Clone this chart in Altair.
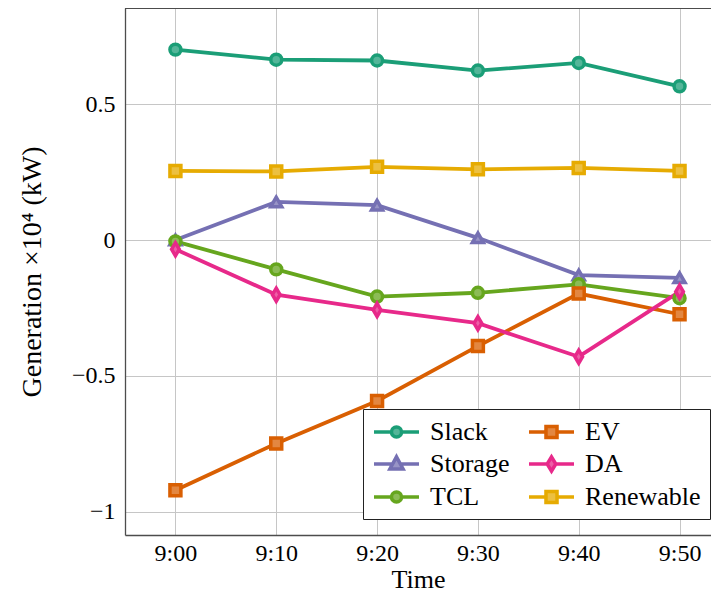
import altair as alt
import pandas as pd

# ---- data ----
times = ["9:00", "9:10", "9:20", "9:30", "9:40", "9:50"]
series = ["Slack", "Storage", "TCL", "EV", "DA", "Renewable"]
slack = [0.700, 0.663, 0.660, 0.623, 0.651, 0.565]
storage = [0.000, 0.140, 0.128, 0.008, -0.129, -0.139]
tcl = [-0.005, -0.108, -0.208, -0.194, -0.163, -0.214]
ev = [-0.920, -0.748, -0.592, -0.390, -0.197, -0.273]
da = [-0.034, -0.201, -0.257, -0.306, -0.429, -0.190]
renewable = [0.254, 0.252, 0.269, 0.260, 0.265, 0.254]
y_ticks = [-1, -0.5, 0, 0.5]

# ---- styles ----
colors = ["#1b9e77", "#7570b3", "#66a61e", "#d95f02", "#e7298a", "#e6ab02"]
light = ["#54b699", "#9894c6", "#8cbc56", "#e38741", "#ed5fa7", "#ecc041"]
point_shapes = ["circle", "triangle-up", "circle", "square",
                "M0,-1.2L0.7,0L0,1.2L-0.7,0Z", "square"]


def legend_path(kind):
    # line sample from -1 to 2.75 units, marker centred at 0.875
    c = 0.875
    if kind == "circle":
        r = 0.42
        return ("M-1,0L{a},0M{b},0L2.75,0M{b},0A{r},{r},0,1,1,{a},0A{r},{r},0,1,1,{b},0Z"
                .format(a=c - r, b=c + r, r=r))
    if kind == "square":
        h = 0.46
        return ("M-1,0L{a},0M{b},0L2.75,0M{a},{n}H{b}V{h}H{a}Z"
                .format(a=c - h, b=c + h, h=h, n=-h))
    if kind == "triangle":
        return ("M-1,0L{a},0M{b},0L2.75,0M{c},-0.6L{r},0.42L{l},0.42Z"
                .format(a=c - 0.32, b=c + 0.32, c=c, r=c + 0.55, l=c - 0.55))
    return ("M-1,0L{a},0M{b},0L2.75,0M{c},-0.6L{b},0L{c},0.6L{a},0Z"
            .format(a=c - 0.36, b=c + 0.36, c=c))


legend_shapes = [legend_path(k) for k in
                 ["circle", "triangle", "circle", "square", "diamond", "square"]]

FONT = "'Liberation Serif', 'DejaVu Serif', serif"
FRAME = "#4d4d4d"
GRID = "#c6c6c6"

rows = []
for name, vals in zip(series, [slack, storage, tcl, ev, da, renewable]):
    for i, (t, v) in enumerate(zip(times, vals)):
        rows.append({"idx": i, "time": t, "series": name, "value": v})
df = pd.DataFrame(rows)

label_expr = "[" + ",".join("'%s'" % t for t in times) + "][datum.value]"
fill_expr = ""
for s, c in zip(series[:-1], light[:-1]):
    fill_expr += "datum.value === '%s' ? '%s' : " % (s, c)
fill_expr += "'%s'" % light[-1]

x_scale = alt.Scale(domain=[-0.5, 5.312], nice=False, zero=False)
y_scale = alt.Scale(domain=[-1.0846, 0.853], nice=False, zero=False)

x_axis = alt.Axis(values=list(range(len(times))), labelExpr=label_expr,
                  grid=True, gridColor=GRID, gridWidth=1, ticks=False,
                  domain=True, domainColor=FRAME, domainWidth=1.3,
                  labelFont=FONT, labelFontSize=24, labelColor="black",
                  labelPadding=6, title="Time", titleFont=FONT,
                  titleFontSize=26, titleFontWeight="normal",
                  titleColor="black", titlePadding=1)
y_axis = alt.Axis(values=y_ticks, format="~g", grid=True, gridColor=GRID,
                  gridWidth=1, ticks=False, domain=True, domainColor=FRAME,
                  domainWidth=1.3, labelFont=FONT, labelFontSize=24,
                  labelColor="black", labelPadding=10,
                  title="Generation ×10⁴ (kW)", titleFont=FONT,
                  titleFontSize=28, titleFontWeight="normal",
                  titleColor="black", titlePadding=25)


def stroke_scale():
    return alt.Scale(domain=series, range=colors)


def fill_scale():
    return alt.Scale(domain=series, range=light)


base = alt.Chart(df)

frame_top = alt.Chart(df).mark_rule(color=FRAME, strokeWidth=1.3).encode(
    y=alt.value(0)
)

lines = base.mark_line(strokeWidth=3.8).encode(
    x=alt.X("idx:Q", scale=x_scale, axis=x_axis),
    y=alt.Y("value:Q", scale=y_scale, axis=y_axis),
    stroke=alt.Stroke("series:N", scale=stroke_scale(), legend=None),
)

points = base.mark_point(filled=False, opacity=1, fillOpacity=1, strokeWidth=3.5, size=120).encode(
    x=alt.X("idx:Q", scale=x_scale, axis=x_axis),
    y=alt.Y("value:Q", scale=y_scale, axis=y_axis),
    stroke=alt.Stroke("series:N", scale=stroke_scale(), legend=None),
    fill=alt.Fill("series:N", scale=fill_scale(), legend=None),
    shape=alt.Shape("series:N", scale=alt.Scale(domain=series, range=point_shapes), legend=None),
)

leg = alt.Legend(
    title=None, orient="none", legendX=238, legendY=401, columns=2,
    values=series, symbolSize=576, symbolStrokeWidth=3.5,
    symbolFillColor={"expr": fill_expr}, symbolStrokeColor="black",
    labelFont=FONT, labelFontSize=26, labelColor="black", labelOffset=30,
    rowPadding=4, columnPadding=12, padding=9,
    strokeColor="#222222", fillColor="white",
)

legend_layer = base.transform_filter("false").mark_point(
    filled=False, opacity=1, fillOpacity=1, strokeWidth=3.5
).encode(
    x=alt.X("idx:Q", scale=x_scale, axis=x_axis),
    y=alt.Y("value:Q", scale=y_scale, axis=y_axis),
    stroke=alt.Stroke("series:N", scale=stroke_scale(), legend=leg),
    fill=alt.Fill("series:N", scale=fill_scale(), legend=leg),
    shape=alt.Shape("series:N", scale=alt.Scale(domain=series, range=legend_shapes), legend=leg),
)

chart = alt.layer(frame_top, lines, points, legend_layer).resolve_scale(
    fill="independent", stroke="independent", shape="independent"
).resolve_legend(
    fill="independent", stroke="independent", shape="independent"
).properties(
    width=586, height=527,
    padding={"left": 117, "top": 0, "right": 0, "bottom": 60},
    autosize=alt.AutoSizeParams(type="none"),
    background="white",
).configure_view(stroke=None)

chart.save("out.html", embed_options={"renderer": "svg", "actions": False})
